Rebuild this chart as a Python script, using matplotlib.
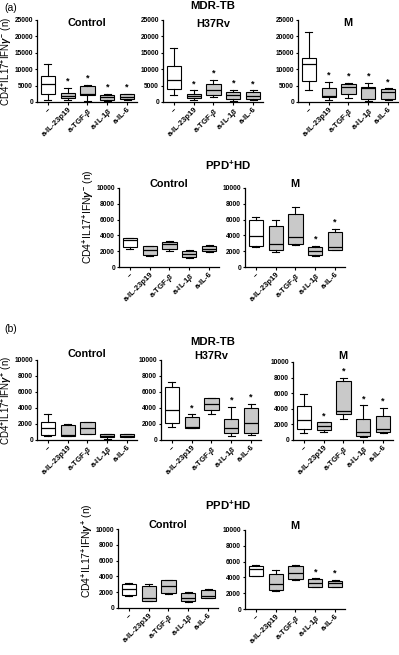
import matplotlib
matplotlib.use("Agg")
import matplotlib.pyplot as plt

plt.rcParams["font.family"] = ["Liberation Sans", "DejaVu Sans"]
plt.rcParams["font.weight"] = "bold"
plt.rcParams["mathtext.fontset"] = "custom"
plt.rcParams["mathtext.rm"] = "Liberation Sans:bold"
plt.rcParams["mathtext.it"] = "Liberation Sans:italic:bold"
plt.rcParams["mathtext.bf"] = "Liberation Sans:bold"

treatments = ["--", "a-IL-23p19", r"a-TGF-$\beta$", r"a-IL-1$\beta$", "a-IL-6"]

# each box: [whisker low, q1, median, q3, whisker high]
a_control = [[700, 2450, 5500, 7900, 11600], [500, 1100, 1900, 2750, 4300],
             [400, 2250, 2500, 4800, 5300], [200, 700, 1400, 2200, 2550],
             [700, 900, 1400, 2300, 2450]]
a_h37rv = [[2000, 4100, 6800, 10900, 16400], [500, 1100, 1700, 2450, 3600],
           [1500, 2250, 3600, 5500, 6800], [400, 900, 2000, 3000, 3800],
           [500, 1000, 1800, 3100, 3600]]
a_m = [[3800, 6300, 11500, 13300, 21400], [600, 1500, 1900, 4200, 6100],
       [1300, 2550, 4600, 5600, 5800], [300, 1000, 4200, 4600, 5800],
       [600, 1000, 3200, 4100, 4200]]
a_hd_control = [[2260, 2510, 3430, 3640, 3640], [1420, 1500, 2090, 2640, 2720],
                [2010, 2300, 2930, 3220, 3350], [1090, 1260, 1630, 2010, 2090],
                [1840, 1970, 2300, 2680, 2760]]
a_hd_m = [[2560, 2650, 3870, 5970, 6390], [1890, 2100, 2860, 5250, 5970],
          [2730, 2900, 3820, 6720, 7560], [1340, 1470, 2020, 2560, 2650],
          [2100, 2180, 2560, 4410, 4870]]
b_control = [[540, 620, 1450, 2190, 3300], [540, 560, 620, 1860, 1940],
             [700, 740, 1450, 2190, 2190], [120, 330, 540, 740, 790],
             [330, 330, 500, 700, 740]]
b_h37rv = [[1580, 2080, 3750, 6580, 7290], [1460, 1460, 1580, 2830, 3200],
           [3250, 3750, 4460, 5200, 5200], [540, 920, 1540, 2620, 4170],
           [620, 830, 2080, 3960, 4500]]
b_m = [[950, 1380, 2540, 4310, 5950], [1080, 1290, 1810, 2280, 2280],
       [2720, 3360, 3750, 7540, 7970], [340, 520, 1080, 2720, 4440],
       [950, 990, 1380, 3100, 4090]]
b_hd_control = [[1530, 1610, 2460, 3090, 3180], [850, 890, 1310, 2750, 3090],
                [1820, 1950, 2750, 3520, 3600], [760, 890, 1310, 1950, 2030],
                [1270, 1310, 1480, 2250, 2460]]
b_hd_m = [[4180, 4220, 5020, 5440, 5570], [2280, 2400, 3120, 4430, 4940],
          [3710, 3800, 4600, 5440, 5570], [2740, 2830, 3250, 3760, 3880],
          [2740, 2830, 3250, 3590, 3670]]

# boxes marked with * (significant)
a_control_sig = [1, 2, 3, 4]
a_h37rv_sig = [1, 2, 3, 4]
a_m_sig = [1, 2, 3, 4]
a_hd_m_sig = [3, 4]
b_h37rv_sig = [1, 3, 4]
b_m_sig = [1, 2, 3, 4]
b_hd_m_sig = [3, 4]

W, H = 399, 655
fig = plt.figure(figsize=(W / 100, H / 100), dpi=100)
ylab_a = r"CD4$^{+}$IL17$^{+}$IFN$\gamma^{-}$ (n)"
ylab_b = r"CD4$^{+}$IL17$^{+}$IFN$\gamma^{+}$ (n)"

# (data, title, significant, x0, top, bottom, title_y, ymax, ystep, ylabel)
panels = [
    (a_control, "Control", a_control_sig, 37, 20, 102, 23, 25000, 5000, ylab_a),
    (a_h37rv, "H37Rv", a_h37rv_sig, 163, 20, 102, 24, 25000, 5000, None),
    (a_m, "M", a_m_sig, 298, 20, 102, 23, 25000, 5000, None),
    (a_hd_control, "Control", [], 119, 188, 267, 184, 10000, 2000, ylab_a),
    (a_hd_m, "M", a_hd_m_sig, 245, 188, 267, 184, 10000, 2000, None),
    (b_control, "Control", [], 37, 360, 440, 354, 10000, 2000, ylab_b),
    (b_h37rv, "H37Rv", b_h37rv_sig, 161, 360, 440, 356, 10000, 2000, None),
    (b_m, "M", b_m_sig, 293, 362, 440, 356, 10000, 2000, None),
    (b_hd_control, "Control", [], 118, 529, 608, 525, 10000, 2000, ylab_b),
    (b_hd_m, "M", b_hd_m_sig, 245, 530, 609, 526, 10000, 2000, None),
]
# y label: (label right edge px, vertical centre in axes fraction, size)
label_place = {(37, 20): (14, 0.5, 7.0), (119, 188): (96, 0.64, 7.5),
               (37, 360): (14, 0.5, 7.0), (118, 529): (95, 0.72, 7.5)}

for data, title, sig, x0, top, bot, ty, ymax, ystep, ylabel in panels:
    ax = fig.add_axes([x0 / W, 1 - bot / H, 100 / W, (bot - top) / H])
    stats = []
    for lo, q1, med, q3, hi in data:
        stats.append(dict(whislo=lo, q1=q1, med=med, q3=q3, whishi=hi))
    bp = ax.bxp(stats, positions=range(5), widths=0.72, patch_artist=True,
                showfliers=False,
                boxprops=dict(linewidth=0.8, edgecolor="black"),
                medianprops=dict(color="black", linewidth=0.9),
                whiskerprops=dict(linewidth=0.8),
                capprops=dict(linewidth=0.8),
                capwidths=0.36)
    for i, patch in enumerate(bp["boxes"]):
        patch.set_facecolor("white" if i == 0 else "#c9c9c9")
    for i in sig:
        ax.annotate("*", xy=(i, data[i][4]), xytext=(0, 1.5),
                    textcoords="offset points", ha="center", va="bottom",
                    fontsize=6.5)
    ax.set_xlim(-0.55, 4.5)
    ax.set_ylim(0, ymax)
    ax.set_yticks(range(0, ymax + 1, ystep))
    ax.set_xticks(range(5))
    ax.set_xticklabels(treatments, rotation=45, ha="right",
                       rotation_mode="anchor", fontsize=5.6)
    ax.tick_params(axis="y", labelsize=4.8)
    ax.tick_params(length=1.8, width=0.8, pad=1.0)
    ax.spines["top"].set_visible(False)
    ax.spines["right"].set_visible(False)
    ax.spines["left"].set_linewidth(0.9)
    ax.spines["bottom"].set_linewidth(0.9)
    fig.text((x0 + 50) / W, 1 - ty / H, title, ha="center", va="center",
             fontsize=7.8, fontweight="bold")
    if ylabel:
        lx, ly, ls = label_place[(x0, top)]
        ax.set_ylabel(ylabel, fontsize=ls)
        ax.yaxis.set_label_coords((lx - x0) / 100, ly)

fig.text(4 / W, 1 - 8 / H, "(a)", fontsize=7.5, fontweight="normal", va="center")
fig.text(213 / W, 1 - 6 / H, "MDR-TB", fontsize=8.2, ha="center", va="center")
fig.text(228 / W, 1 - 165 / H, r"PPD$^{+}$HD", fontsize=8.2, ha="center",
         va="center")
fig.text(4 / W, 1 - 329 / H, "(b)", fontsize=7.5, fontweight="normal", va="center")
fig.text(213 / W, 1 - 342 / H, "MDR-TB", fontsize=8.2, ha="center", va="center")
fig.text(228 / W, 1 - 505 / H, r"PPD$^{+}$HD", fontsize=8.2, ha="center",
         va="center")

fig.savefig("out.png", dpi=100)
